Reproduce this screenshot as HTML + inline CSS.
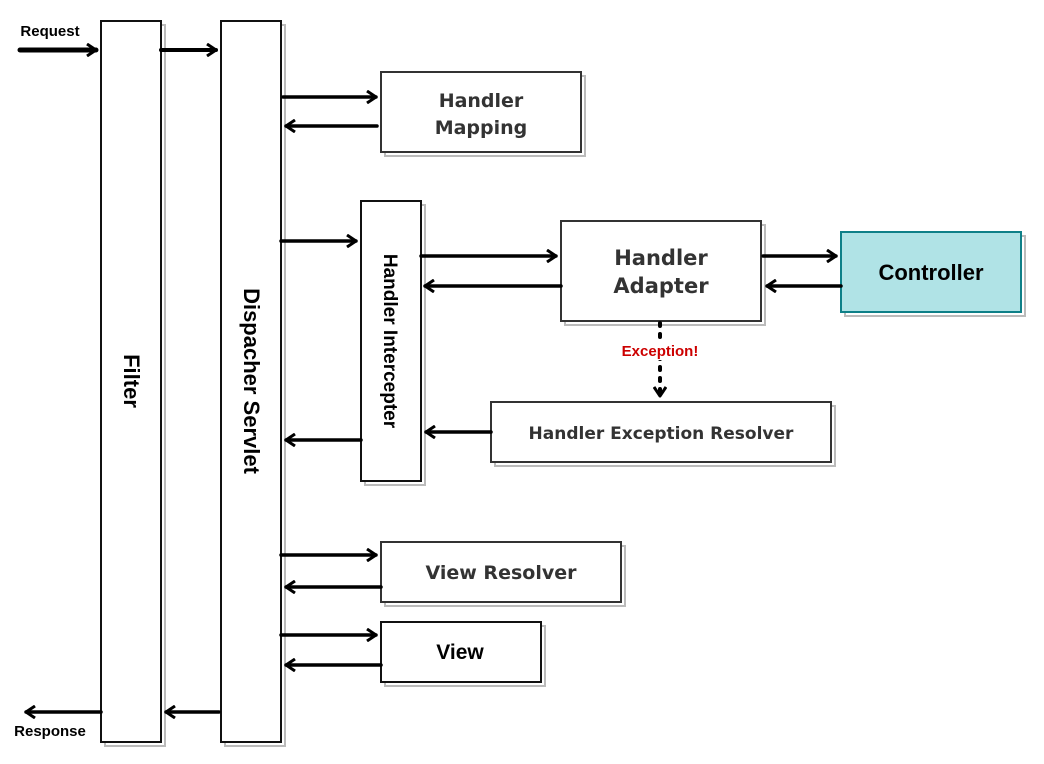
<!DOCTYPE html>
<html><head><meta charset="utf-8"><style>html,body{margin:0;padding:0;background:#fff}svg{display:block}text{font-family:"Liberation Sans",sans-serif;font-weight:bold}.d{font-family:"DejaVu Sans",sans-serif}</style></head>
<body>
<svg width="1044" height="764" viewBox="0 0 1044 764" xmlns="http://www.w3.org/2000/svg">
<defs>
<marker id="a" markerWidth="12" markerHeight="14" refX="10" refY="7" orient="auto" markerUnits="userSpaceOnUse">
<polyline points="1,1 10,7 1,13" fill="none" stroke="#000" stroke-width="3" stroke-linejoin="round"/>
</marker>
</defs>
<g fill="none" stroke="#bbb" stroke-width="2">
<rect x="105" y="25" width="60" height="721"/>
<rect x="225" y="25" width="60" height="721"/>
<rect x="385" y="76" width="200" height="80"/>
<rect x="365" y="205" width="60" height="280"/>
<rect x="565" y="225" width="200" height="100"/>
<rect x="845" y="236" width="180" height="80"/>
<rect x="495" y="406" width="340" height="60"/>
<rect x="385" y="546" width="240" height="60"/>
<rect x="385" y="626" width="160" height="60"/>
</g>
<g fill="#fff" stroke="#111" stroke-width="2">
<rect x="101" y="21" width="60" height="721"/>
<rect x="221" y="21" width="60" height="721"/>
<rect x="381" y="72" width="200" height="80" stroke="#333"/>
<rect x="361" y="201" width="60" height="280"/>
<rect x="561" y="221" width="200" height="100" stroke="#333"/>
<rect x="841" y="232" width="180" height="80" fill="#b0e3e6" stroke="#0e8088"/>
<rect x="491" y="402" width="340" height="60" stroke="#333"/>
<rect x="381" y="542" width="240" height="60" stroke="#333"/>
<rect x="381" y="622" width="160" height="60"/>
</g>
<g stroke="#000" stroke-width="3.5" fill="none" marker-end="url(#a)" stroke-linecap="round">
<line x1="20" y1="50" x2="96" y2="50" stroke-width="5"/>
<line x1="161" y1="50" x2="216" y2="50" stroke-width="4"/>
<line x1="283" y1="97" x2="376" y2="97"/>
<line x1="377" y1="126" x2="286" y2="126"/>
<line x1="281" y1="241" x2="356" y2="241"/>
<line x1="421" y1="256" x2="556" y2="256"/>
<line x1="561" y1="286" x2="425" y2="286"/>
<line x1="763" y1="256" x2="836" y2="256"/>
<line x1="841" y1="286" x2="767" y2="286"/>
<line x1="660" y1="323" x2="660" y2="396" stroke-dasharray="3,8" stroke-width="4"/>
<line x1="491" y1="432" x2="426" y2="432"/>
<line x1="361" y1="440" x2="286" y2="440"/>
<line x1="281" y1="555" x2="376" y2="555"/>
<line x1="381" y1="587" x2="286" y2="587"/>
<line x1="281" y1="635" x2="376" y2="635"/>
<line x1="381" y1="665" x2="286" y2="665"/>
<line x1="219" y1="712" x2="166" y2="712"/>
<line x1="101" y1="712" x2="26" y2="712"/>
</g>
<rect x="612" y="340" width="96" height="20" fill="#fff"/>
<text x="50" y="36" font-size="15" text-anchor="middle">Request</text>
<text x="50" y="736" font-size="15" text-anchor="middle">Response</text>
<text x="660" y="356" font-size="15" fill="#cc0000" text-anchor="middle">Exception!</text>
<text transform="translate(124,381) rotate(90)" font-size="22" text-anchor="middle">Filter</text>
<text transform="translate(244,381) rotate(90)" font-size="22" text-anchor="middle">Dispacher Servlet</text>
<text transform="translate(384,341) rotate(90)" font-size="19" text-anchor="middle">Handler Intercepter</text>
<g fill="#333" text-anchor="middle" class="d">
<text class="d" x="481" y="107" font-size="19">Handler</text>
<text class="d" x="481" y="134" font-size="19">Mapping</text>
<text class="d" x="661" y="265" font-size="21">Handler</text>
<text class="d" x="661" y="293" font-size="21">Adapter</text>
<text class="d" x="661" y="439" font-size="17">Handler Exception Resolver</text>
<text class="d" x="501" y="579" font-size="19">View Resolver</text>
</g>
<text x="931" y="280" font-size="22" text-anchor="middle">Controller</text>
<text x="460" y="659" font-size="21" text-anchor="middle">View</text>
</svg>
</body></html>
